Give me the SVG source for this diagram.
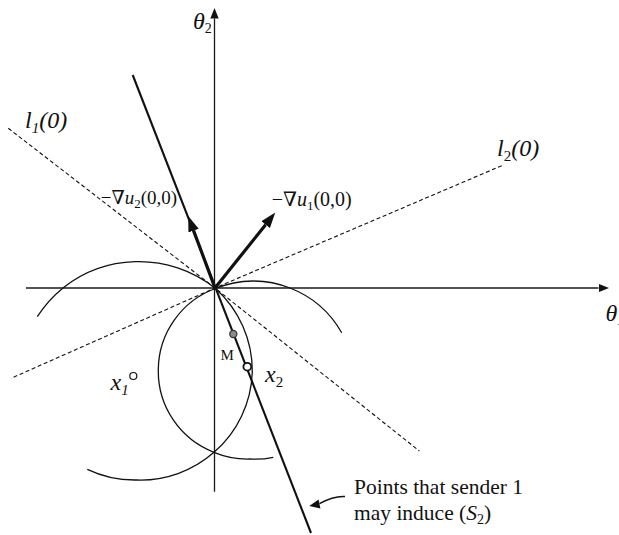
<svg xmlns="http://www.w3.org/2000/svg" width="619" height="535" viewBox="0 0 619 535">
<style>
  .ax{stroke:#1a1a1a;stroke-width:1.3;fill:none}
  .arc{stroke:#111;stroke-width:1.3;fill:none}
  .dash{stroke:#111;stroke-width:1.1;fill:none;stroke-dasharray:4 2.6}
  .solid{stroke:#111;stroke-width:2.1;fill:none}
  .grad{stroke:#111;stroke-width:3.2;fill:none}
  text{font-family:"Liberation Serif","DejaVu Serif",serif;fill:#111}
  .it{font-style:italic}
</style>
<defs>
  <marker id="axhead" viewBox="0 -5 11 10" markerWidth="11" markerHeight="10" refX="0" refY="0" orient="auto" markerUnits="userSpaceOnUse">
    <path d="M0,-4.2 L10.5,0 L0,4.2 z" fill="#111"/>
  </marker>
  <marker id="gradhead" viewBox="0 -6 16 12" markerWidth="16" markerHeight="12" refX="0" refY="0" orient="auto" markerUnits="userSpaceOnUse">
    <path d="M0,-5.5 L15.5,0 L0,5.5 z" fill="#111"/>
  </marker>
</defs>
<rect width="619" height="535" fill="#fff"/>

<g id="axes">
  <line class="ax" x1="26" y1="288" x2="598.5" y2="288" marker-end="url(#axhead)"/>
  <line class="ax" x1="214.5" y1="491.7" x2="214.5" y2="18.5" marker-end="url(#axhead)"/>
</g>

<g id="indifference-curves">
  <path id="circle1" class="arc" d="M37.3,316.7 A122,122 0 0 1 63.3,287.7 A122,122 0 0 1 135,261.7 A122,122 0 0 1 215.5,288.5 A111,111 0 0 1 252.3,372 A111,111 0 0 1 214,452.3 A111,111 0 0 1 136.7,480 A111,111 0 0 1 87.3,469.3"/>
  <path id="circle2" class="arc" d="M341.7,332.7 A102,102 0 0 0 290,288 A102,102 0 0 0 252.7,281 A102,102 0 0 0 215.5,288.5 A87,87 0 0 0 158.3,369.5 A87,87 0 0 0 214,452.3 A87,87 0 0 0 250,459 A87,87 0 0 0 273.3,457.3"/>
</g>

<g id="connectors">
  <polyline class="dash" points="8.3,128.3 215,288 419.3,451"/>
  <polyline class="dash" points="501.7,165.7 215,288 11,378.3"/>
  <line id="S2-line" class="solid" x1="132.7" y1="75" x2="311" y2="533"/>
  <line class="grad" x1="215" y1="288" x2="193.6" y2="230.6" marker-end="url(#gradhead)"/>
  <line class="grad" x1="215" y1="288" x2="265.6" y2="224.7" marker-end="url(#gradhead)"/>
  <path d="M345,496.6 C336,496 329,498.5 319.5,503.6" stroke="#111" stroke-width="1.5" fill="none"/>
  <polygon points="309.3,506 318.6,499.6 320.4,508.4" fill="#111"/>
</g>

<g id="point-M">
  <circle cx="233.3" cy="334" r="3.6" fill="#8a8a8a" stroke="#333" stroke-width="1.2"/>
  <text x="220.5" y="359.5" font-size="15">M</text>
</g>
<g id="point-x1">
  <circle cx="133.3" cy="376" r="3.5" fill="#fff" stroke="#111" stroke-width="1.2"/>
  <text x="110.5" y="390" font-size="24" class="it">x<tspan font-size="15" dy="5">1</tspan></text>
</g>
<g id="point-x2">
  <circle cx="247.3" cy="366.7" r="3.9" fill="#fff" stroke="#111" stroke-width="1.8"/>
  <text x="265" y="381.7" font-size="24" class="it">x<tspan font-size="15" dy="5.5" font-style="normal">2</tspan></text>
</g>

<g id="labels">
  <text x="193" y="28.5" font-size="24" class="it">θ<tspan font-size="14" dy="4" font-style="normal">2</tspan></text>
  <text x="605.5" y="320.5" font-size="24" class="it">θ<tspan font-size="14" dy="4">1</tspan></text>
  <text x="25" y="128" font-size="24" class="it">l<tspan font-size="15" dy="5">1</tspan><tspan dy="-5">(0)</tspan></text>
  <text x="497" y="156" font-size="24" class="it">l<tspan font-size="15" dy="5" font-style="normal">2</tspan><tspan dy="-5">(0)</tspan></text>
  <text x="100.7" y="204" font-size="19">−∇<tspan class="it">u</tspan><tspan font-size="13" dy="4">2</tspan><tspan dy="-4">(0,0)</tspan></text>
  <text x="271.7" y="206" font-size="20">−∇<tspan class="it">u</tspan><tspan font-size="13" dy="4">1</tspan><tspan dy="-4">(0,0)</tspan></text>
  <text x="354" y="494" font-size="21.5">Points that sender 1</text>
  <text x="354" y="519.5" font-size="21.5">may induce (<tspan class="it">S</tspan><tspan font-size="14" dy="4">2</tspan><tspan dy="-4">)</tspan></text>
</g>
</svg>
